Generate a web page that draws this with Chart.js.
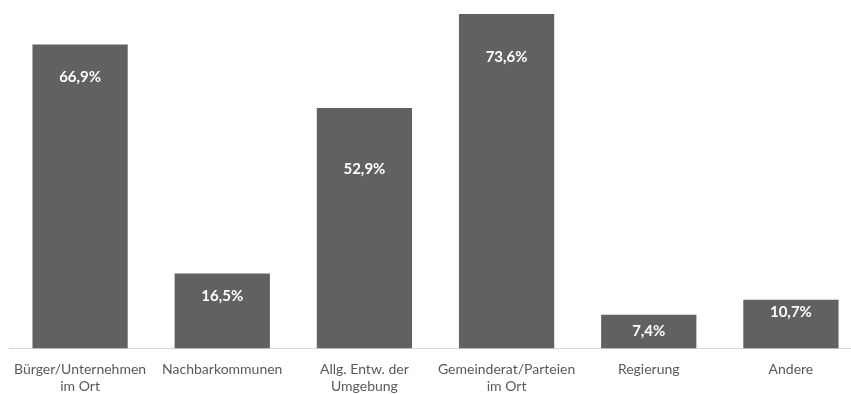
<!DOCTYPE html>
<html>
<head>
<meta charset="utf-8">
<script src="https://cdn.jsdelivr.net/npm/chart.js@4"></script>
<style>
  html, body { margin: 0; padding: 0; background: #fff; overflow: hidden; }
  #wrap { position: absolute; left: 0; top: 0; width: 862px; height: 408px; }
</style>
</head>
<body>
<div id="wrap"><canvas id="chart"></canvas></div>
<script>
// Categories (multi-line where the label wraps)
const categories = [
    ['Bürger/Unternehmen', 'im Ort'],
    'Nachbarkommunen',
    ['Allg. Entw. der', 'Umgebung'],
    ['Gemeinderat/Parteien', 'im Ort'],
    'Regierung',
    'Andere'
];
const shares = [66.9, 16.5, 52.9, 73.6, 7.4, 10.7];

// distance (px) from bar top to label centre
const labelDrop = [33, 23, 61, 43, 16, 12];

const barValueLabels = {
    id: 'barValueLabels',
    afterDatasetsDraw(chart) {
        const ctx = chart.ctx;
        const meta = chart.getDatasetMeta(0);
        ctx.save();
        ctx.fillStyle = '#ffffff';
        ctx.font = 'bold 15px Lato';
        ctx.textAlign = 'center';
        ctx.textBaseline = 'middle';
        meta.data.forEach((bar, i) => {
            const txt = shares[i].toFixed(1).replace('.', ',') + '%';
            ctx.fillText(txt, bar.x, bar.y + labelDrop[i]);
        });
        ctx.restore();
    }
};

const ctx = document.getElementById('chart').getContext('2d');
new Chart(ctx, {
    type: 'bar',
    data: {
        labels: categories,
        datasets: [{
            data: shares,
            backgroundColor: '#616161',
            borderWidth: 0,
            barPercentage: 1,
            categoryPercentage: 0.67
        }]
    },
    options: {
        responsive: true,
        maintainAspectRatio: false,
        animation: false,
        layout: { padding: { top: 14, left: 9, right: 0, bottom: 0 } },
        scales: {
            y: {
                display: false,
                min: 0,
                max: 73.6
            },
            x: {
                grid: { display: false, drawTicks: false },
                border: { display: true, color: '#d9d9d9', width: 1 },
                ticks: {
                    color: '#595959',
                    font: { family: 'Lato', size: 14 },
                    padding: 13,
                    autoSkip: false,
                    maxRotation: 0
                }
            }
        },
        plugins: {
            legend: { display: false },
            tooltip: { enabled: false }
        }
    },
    plugins: [barValueLabels]
});
</script>
</body>
</html>
